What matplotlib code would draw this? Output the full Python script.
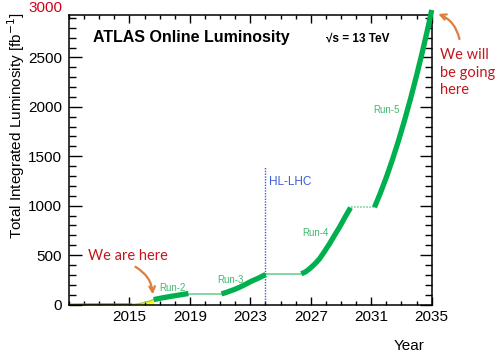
import numpy as np
import matplotlib
matplotlib.use("Agg")
import matplotlib.pyplot as plt
from matplotlib.ticker import MultipleLocator

plt.rcParams["font.family"] = ["Liberation Sans", "DejaVu Sans"]

# delivered / projected luminosity (fb^-1)
run1_year = [2011.0, 2012.0, 2013.0, 2015.2]
run1_lumi = [0, 2, 3, 3]

run2a_year = [2015.2, 2015.6, 2016.0, 2016.3, 2016.6]
run2a_lumi = [0, 8, 20, 33, 50]

run2_year = [2016.6, 2017.2, 2017.8, 2018.4, 2018.9]
run2_lumi = [50, 68, 84, 99, 111]

ls2_year = [2018.9, 2021.1]
ls2_lumi = [111, 111]

run3_year = [2021.09, 2021.36, 2021.63, 2021.96, 2022.29, 2022.68, 2023.07, 2023.55, 2024.01]
run3_lumi = [108, 120, 135, 153, 175, 204, 236, 268, 304]

ls3_year = [2024.0, 2026.4]
ls3_lumi = [305, 305]

run4_year = [2026.37, 2026.65, 2026.92, 2027.25, 2027.58, 2027.9, 2028.24,
             2028.57, 2028.90, 2029.25, 2029.63]
run4_lumi = [311, 330, 362, 408, 463, 535, 615, 700, 783, 880, 980]

ls4_year = [2029.63, 2031.21]
ls4_lumi = [983, 983]

run5_year = [2031.21, 2031.6, 2032.0, 2032.4, 2032.8, 2033.2, 2033.6,
             2034.0, 2034.4, 2034.8, 2035.0]
run5_lumi = [983, 1127, 1288, 1465, 1656, 1862, 2083, 2318, 2568, 2832, 2980]

hl_lhc_year = 2024.0
hl_lhc_top = 1390

run_labels = ["Run-2", "Run-3", "Run-4", "Run-5"]
run_label_x = [2017.0, 2020.78, 2026.46, 2031.15]
run_label_y = [172, 253, 720, 1966]

yticks = [0, 500, 1000, 1500, 2000, 2500]
xticks = [2015, 2019, 2023, 2027, 2031, 2035]

green = "#00b04f"
thin_green = "#5ccf86"
red = "#c4161c"
orange = "#de7e3c"

fig = plt.figure(figsize=(4.98, 3.54), dpi=100)
ax = fig.add_axes([0.1386, 0.1398, 0.7283, 0.8187])

ax.plot(run1_year, run1_lumi, color="#6b7d22", lw=1.2, solid_capstyle="butt")
ax.fill_between(run2a_year, 0, run2a_lumi, color="#ffff00", lw=0)
ax.plot(run2a_year, run2a_lumi, color="#9acd32", lw=1.0)

for xs, ys in [(run2_year, run2_lumi), (run3_year, run3_lumi),
               (run4_year, run4_lumi), (run5_year, run5_lumi)]:
    ax.plot(xs, ys, color=green, lw=3.8, solid_capstyle="butt",
            solid_joinstyle="round", clip_on=False, zorder=3)

ax.plot(ls2_year, ls2_lumi, color=thin_green, lw=1.1)
ax.plot(ls3_year, ls3_lumi, color=thin_green, lw=1.1)
ax.plot(ls4_year, ls4_lumi, color=thin_green, lw=1.1, ls=(0, (1, 1)))

ax.plot([hl_lhc_year, hl_lhc_year], [0, hl_lhc_top], color="#3a5fd0", lw=1.0, ls=(0, (1, 1)))
ax.text(2024.2, 1236, "HL-LHC", color="#3a5fd0", fontsize=8.5, va="center", ha="left")

for lab, x, y in zip(run_labels, run_label_x, run_label_y):
    ax.text(x, y, lab, color="#3dbb6e", fontsize=7, va="center", ha="left")

ax.set_xlim(2011, 2035)
ax.set_ylim(0, 2932)
ax.set_xticks(xticks)
ax.set_yticks(yticks)
ax.xaxis.set_minor_locator(MultipleLocator(1))
ax.yaxis.set_minor_locator(MultipleLocator(100))
ax.tick_params(which="both", direction="in", top=True, right=True, labelsize=11, width=1.0)
ax.tick_params(axis="x", which="major", length=6, pad=4)
ax.tick_params(axis="x", which="minor", length=3)
ax.tick_params(axis="y", which="major", length=9, pad=5)
ax.tick_params(axis="y", which="minor", length=5)
for sp in ax.spines.values():
    sp.set_linewidth(1.1)

ax.annotate("3000", xy=(0, 3000), xycoords=("axes fraction", "data"),
            xytext=(-5, 0), textcoords="offset points",
            ha="right", va="center", fontsize=11, color="#d0021b", annotation_clip=False)

ax.text(0.066, 0.906, "ATLAS Online Luminosity", transform=ax.transAxes,
        fontsize=11.5, fontweight="bold", va="baseline")
ax.text(0.708, 0.906, "\u221as = 13 TeV", transform=ax.transAxes,
        fontsize=8.5, fontweight="bold", va="baseline")

fig.text(0.032, 0.966, "Total Integrated Luminosity [fb$^{-1}$]", rotation=90,
         fontsize=11, ha="center", va="top")
fig.text(0.853, 0.0113, "Year", fontsize=11, ha="right", va="baseline")

# annotations
ax.text(2012.25, 446, "We are here", color=red, fontsize=10.5, family="Lato", va="baseline")
ax.annotate("", xy=(2016.55, 74), xytext=(2015.23, 395),
            arrowprops=dict(arrowstyle="->", color=orange, lw=1.6,
                            connectionstyle="arc3,rad=-0.3", mutation_scale=10))

ax.text(2035.57, 2590, "We will\nbe going\nhere", color=red, fontsize=10.5,
        family="Lato", va="top", ha="left", linespacing=1.3, clip_on=False)
ax.annotate("", xy=(2035.26, 2949), xytext=(2036.87, 2658),
            arrowprops=dict(arrowstyle="->", color=orange, lw=1.6,
                            connectionstyle="arc3,rad=0.3", mutation_scale=10),
            annotation_clip=False)

fig.savefig("out.png", dpi=100)
